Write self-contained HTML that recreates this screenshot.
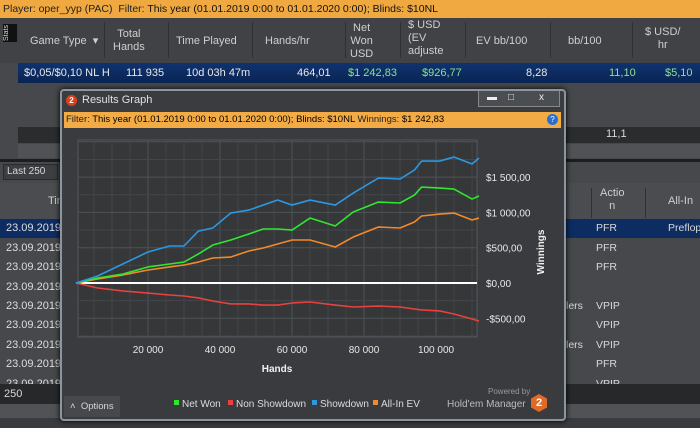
<!DOCTYPE html>
<html><head><meta charset="utf-8">
<style>
*{margin:0;padding:0;box-sizing:border-box}
body{width:700px;height:428px;overflow:hidden;background:#46484b;font-family:"Liberation Sans",sans-serif;color:#d8d8d8;position:relative}
.a{position:absolute}
.t{font-size:11px;white-space:nowrap}
.hd{font-size:11px;color:#cfcfcf;text-align:center;line-height:13px}
.sep{position:absolute;top:22px;width:1px;height:36px;background:#2e3033}
</style></head><body>
<div class="a" style="left:0;top:0;width:700px;height:18px;background:#f0a941;color:#222;font-size:10.5px;line-height:18px;padding-left:3px">Player: oper_yyp (PAC) &nbsp;Filter: <b style="font-weight:normal;color:#111">This year (01.01.2019 0:00 to 01.01.2020 0:00); Blinds: $10NL</b></div>
<div class="a" style="left:0;top:18px;width:700px;height:45px;background:#404245"></div>
<div class="a" style="left:3px;top:24px;width:14px;height:18px;background:#111;color:#ddd;font-size:7px;writing-mode:vertical-rl;transform:rotate(180deg);text-align:center">Stats</div>
<div class="a hd" style="left:30px;top:35px">Game Type &nbsp;▾</div>
<div class="sep" style="left:104px"></div>
<div class="a hd" style="left:113px;top:28px">Total<br>Hands</div>
<div class="sep" style="left:168px"></div>
<div class="a hd" style="left:176px;top:35px">Time Played</div>
<div class="sep" style="left:252px"></div>
<div class="a hd" style="left:265px;top:35px">Hands/hr</div>
<div class="sep" style="left:345px"></div>
<div class="a hd" style="left:350px;top:22px">Net<br>Won<br>USD</div>
<div class="sep" style="left:400px"></div>
<div class="a hd" style="left:408px;top:19px;text-align:left">$ USD<br>(EV<br>adjuste</div>
<div class="sep" style="left:465px"></div>
<div class="a hd" style="left:476px;top:35px">EV bb/100</div>
<div class="sep" style="left:550px"></div>
<div class="a hd" style="left:568px;top:35px">bb/100</div>
<div class="sep" style="left:632px"></div>
<div class="a hd" style="left:645px;top:26px">$ USD/<br>hr</div>
<div class="a" style="left:18px;top:63px;width:682px;height:20px;background:linear-gradient(#0f3370,#0a2452);font-size:11px;line-height:20px;color:#e8e8e8">
<span class="a" style="left:6px">$0,05/$0,10 NL H</span><span class="a" style="left:108px">111 935</span><span class="a" style="left:168px">10d 03h 47m</span><span class="a" style="left:279px">464,01</span><span class="a" style="left:330px;color:#8fe08f">$1 242,83</span><span class="a" style="left:404px;color:#8fe08f">$926,77</span><span class="a" style="left:508px">8,28</span><span class="a" style="left:591px;color:#8fe08f">11,10</span><span class="a" style="left:647px;color:#8fe08f">$5,10</span></div>
<div class="a" style="left:18px;top:127px;width:682px;height:16px;background:#2a2c2e"><span class="a t" style="left:588px;top:1px">11,1</span></div>
<div class="a" style="left:18px;top:144px;width:682px;height:14px;background:#505255"></div>
<div class="a" style="left:0;top:159px;width:700px;height:3px;background:#1c1d1f"></div>
<div class="a" style="left:3px;top:164px;width:55px;height:16px;border:1px solid #2a2b2d;background:#3c3e41;font-size:10px;line-height:14px;padding-left:3px">Last 250</div>
<div class="a" style="left:0;top:183px;width:700px;height:36px;background:#4a4c4f"></div>
<div class="a hd" style="left:48px;top:195px">Tim</div>
<div class="sep" style="left:591px;top:188px;height:30px"></div>
<div class="a hd" style="left:600px;top:187px">Actio<br>n</div>
<div class="sep" style="left:645px;top:188px;height:30px"></div>
<div class="a hd" style="left:668px;top:195px">All-In</div>
<div class="a" style="left:0;top:219px;width:700px;height:19px;background:#0d2c62"></div>
<div id="rows"></div>
<div class="a" style="left:0;top:384px;width:700px;height:20px;background:#26282a;font-size:11px;line-height:20px;padding-left:4px">250</div>
<div class="a" style="left:0;top:404px;width:700px;height:14px;background:#505255"></div>
<div class="a" style="left:0;top:418px;width:700px;height:10px;background:#393b3e"></div>

<div class="a" style="left:60px;top:89px;width:506px;height:332px;border:2px solid #8c96a2;border-radius:4px;background:#3a3c40;box-shadow:0 0 6px #000">
 <div class="a" style="left:4px;top:4px;width:11px;height:11px;border-radius:50%;background:#d8401e;color:#fff;font-size:8px;text-align:center;line-height:11px;font-weight:bold">2</div>
 <div class="a t" style="left:20px;top:3px;color:#e0e0e0">Results Graph</div>
 <div class="a" style="left:416px;top:0;width:82px;height:16px;border:1px solid #888;border-top:none;background:#4a4d52;font-size:10px;color:#eee;line-height:14px"><span class="a" style="left:8px">▬</span><span class="a" style="left:29px">□</span><span class="a" style="left:60px">x</span></div>
 <div class="a" style="left:2px;top:21px;width:497px;height:16px;background:#f2ab45;color:#222;font-size:9.5px;line-height:16px;padding-left:2px">Filter: <span style="color:#000">This year (01.01.2019 0:00 to 01.01.2020 0:00); Blinds: $10NL</span> Winnings: <span style="color:#000">$1 242,83</span><span class="a" style="right:3px;top:2px;width:11px;height:11px;border-radius:50%;background:#2a6fd0;color:#fff;font-size:8px;text-align:center;line-height:11px">?</span></div>
 <div class="a" style="left:2px;top:38px;width:497px;height:290px;background:#393b3e"></div>
 <div class="a" style="left:2px;top:305px;width:56px;height:21px;background:#46484c;font-size:9.5px;line-height:21px;padding-left:6px">˄ &nbsp;Options</div>
 <div class="a" style="left:426px;top:296px;font-size:8px;color:#999">Powered by</div>
 <div class="a" style="left:385px;top:308px;font-size:10px;color:#bbb">Hold'em Manager</div>
 <div class="a" style="left:469px;top:303px;width:16px;height:18px;background:#e06a28;clip-path:polygon(50% 0,100% 25%,100% 75%,50% 100%,0 75%,0 25%);color:#fff;font-size:11px;font-weight:bold;text-align:center;line-height:18px">2</div>
</div>
<svg class="a" style="left:0;top:0" width="700" height="428" id="chart"></svg>
<script>
const hands=[0,6000,13000,20000,26000,30000,34000,38000,43000,48000,52000,56000,60000,65000,72000,77000,84000,90000,94000,96000,101000,105000,110000,111935];
const netWon=[0,71,127,227,269,297,411,538,609,694,765,765,750,920,807,1005,1147,1133,1246,1359,1345,1331,1189,1232];
const nonShowdown=[0,-71,-113,-142,-170,-184,-212,-255,-297,-297,-312,-312,-283,-269,-312,-340,-326,-340,-368,-382,-396,-439,-510,-538];
const showdown=[0,99,269,439,524,524,736,779,991,1033,1104,1175,1104,1175,1104,1274,1487,1473,1600,1727,1727,1784,1685,1770];
const allInEV=[0,57,113,184,227,255,297,354,368,453,496,552,609,609,510,651,793,779,864,949,977,991,892,920];
const xTicks=[20000,40000,60000,80000,100000];
const xTickLabels=["20 000","40 000","60 000","80 000","100 000"];
const yTicks=[-500,0,500,1000,1500];
const yTickLabels=["-$500,00","$0,00","$500,00","$1 000,00","$1 500,00"];
const NS="http://www.w3.org/2000/svg";
const svg=document.getElementById('chart');
const PL=78,PR=477,PT=140,PB=337;
const X=h=>76+h*403/111935;
const Y=v=>283-v*35.3/500;
function mk(tag,attrs,parent){const e=document.createElementNS(NS,tag);for(const k in attrs)e.setAttribute(k,attrs[k]);(parent||svg).appendChild(e);return e;}
const bg=mk('rect',{x:PL,y:PT,width:PR-PL,height:PB-PT,fill:'#353739',stroke:'#55585c'});


for(let h=5000;h<112000;h+=5000){const l=mk('line',{x1:X(h),x2:X(h),y1:PT,y2:PB,stroke:h%20000==0?'#505356':'#43464a','stroke-width':1});}
for(let v=-750;v<=2000;v+=250){const y=Y(v);if(y<PT||y>PB)continue;const l=mk('line',{x1:PL,x2:PR,y1:y,y2:y,stroke:v%500==0?'#505356':'#43464a'});}
xTicks.forEach((h,i)=>{const t=mk('text',{x:X(h),y:353,'text-anchor':'middle','font-size':10,fill:'#e8e8e8','font-family':'Liberation Sans'});t.textContent=xTickLabels[i];});
yTicks.forEach((v,i)=>{const t=mk('text',{x:486,y:Y(v)+4,'font-size':10,fill:'#e8e8e8','font-family':'Liberation Sans'});t.textContent=yTickLabels[i];});
const xt=mk('text',{x:277,y:372,'text-anchor':'middle','font-size':10,'font-weight':'bold',fill:'#f0f0f0','font-family':'Liberation Sans'});xt.textContent='Hands';


const yt=mk('text',{x:0,y:0,transform:'translate(544,252) rotate(-90)','text-anchor':'middle','font-size':10,'font-weight':'bold',fill:'#f0f0f0','font-family':'Liberation Sans'});yt.textContent='Winnings';


const z=mk('line',{x1:PL,x2:PR,y1:Y(0),y2:Y(0),stroke:'#ffffff','stroke-width':2});


const series=[['non-showdown',nonShowdown,'#e8413f'],['all-in-ev',allInEV,'#f28a2a'],['net-won',netWon,'#2ee82e'],['showdown',showdown,'#2d97e0']];
series.forEach(([n,d,c])=>{const p=mk('polyline',{points:hands.map((h,i)=>X(h)+','+Y(d[i])).join(' '),fill:'none',stroke:c,'stroke-width':1.6,'stroke-linejoin':'round'});});
const leg=[['Net Won','#2ee82e',174],['Non Showdown','#e8413f',228],['Showdown','#2d97e0',312],['All-In EV','#f28a2a',373]];
leg.forEach(([t,c,x])=>{const g=mk('g',{});mk('rect',{x:x,y:400,width:5,height:5,fill:c},g);const tx=mk('text',{x:x+8,y:407,'font-size':10,fill:'#dcdcdc','font-family':'Liberation Sans'},g);tx.textContent=t;});
const rows=document.getElementById('rows');
const ys=[219,239,258,278,297,316,336,355,375];
const act=['PFR','PFR','PFR','','VPIP','VPIP','VPIP','PFR','VPIP'];
ys.forEach((y,i)=>{const d=document.createElement('div');d.className='a t';d.style.cssText='left:6px;top:'+(y+3)+'px;color:#ddd;font-size:11px';d.textContent='23.09.2019';rows.appendChild(d);
if(act[i]){const a=document.createElement('div');a.className='a t';a.style.cssText='left:596px;top:'+(y+3)+'px;font-size:10.5px';a.textContent=act[i];rows.appendChild(a);}
if(i==4||i==6){const b=document.createElement('div');b.className='a t';b.style.cssText='left:566px;top:'+(y+3)+'px;font-size:10.5px';b.textContent='lers';rows.appendChild(b);}});
const pf=document.createElement('div');pf.className='a t';pf.style.cssText='left:668px;top:222px;font-size:10.5px';pf.textContent='Preflop';


rows.appendChild(pf);
</script>
</body></html>
